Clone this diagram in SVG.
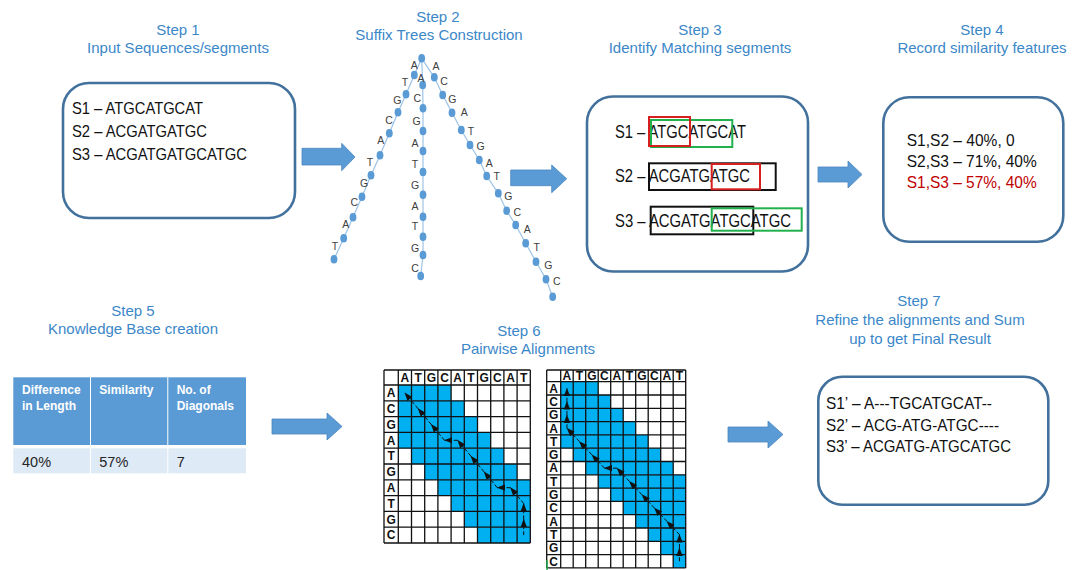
<svg xmlns="http://www.w3.org/2000/svg" width="1072" height="570" viewBox="0 0 1072 570">
<defs>
<style>
.ttl{font-family:"Liberation Sans",Arial,sans-serif;font-size:15px;fill:#3B87C8;text-anchor:middle}
.box{fill:#fff;stroke:#41719C;stroke-width:2.6}
.seq{font-family:"Liberation Sans",Arial,sans-serif;font-size:17px;fill:#111}
.seq3{font-family:"Liberation Sans",Arial,sans-serif;font-size:18px;fill:#111}
.barrow{fill:#5B9BD5;stroke:#4A86C0;stroke-width:0.8}
.tline{fill:none;stroke:#9DC3E6;stroke-width:1.2}
.tnode{fill:#5B9BD5}
.tlab{font-family:"Liberation Sans",Arial,sans-serif;font-size:10.5px;fill:#404040;text-anchor:middle}
.th{font-family:"Liberation Sans",Arial,sans-serif;font-size:12px;font-weight:bold;fill:#fff}
.td{font-family:"Liberation Sans",Arial,sans-serif;font-size:14.5px;fill:#262626}
.blue{fill:#00B0F0}
.grid{fill:none;stroke:#111;stroke-width:1.3}
.gh{font-family:"Liberation Sans",Arial,sans-serif;font-size:12px;font-weight:bold;fill:#111;text-anchor:middle}
.tb{stroke:#111;stroke-width:1;stroke-dasharray:4 2;fill:none;marker-end:url(#ah)}
</style>
<marker id="ah" viewBox="0 0 8 6" refX="7.5" refY="3" markerWidth="8.5" markerHeight="7" markerUnits="userSpaceOnUse" orient="auto">
<path d="M0,0 L8,3 L0,6 z" fill="#111"/>
</marker>
</defs>

<!-- Titles -->
<g id="titles">
<text class="ttl" x="178" y="35">Step 1</text>
<text class="ttl" x="178" y="53">Input Sequences/segments</text>
<text class="ttl" x="438" y="22">Step 2</text>
<text class="ttl" x="439" y="40">Suffix Trees Construction</text>
<text class="ttl" x="700" y="35">Step 3</text>
<text class="ttl" x="700" y="53">Identify Matching segments</text>
<text class="ttl" x="982" y="35">Step 4</text>
<text class="ttl" x="982" y="53">Record similarity features</text>
<text class="ttl" x="133" y="316">Step 5</text>
<text class="ttl" x="133" y="334">Knowledge Base creation</text>
<text class="ttl" x="519" y="336">Step 6</text>
<text class="ttl" x="528" y="354">Pairwise Alignments</text>
<text class="ttl" x="919" y="306">Step 7</text>
<text class="ttl" x="920" y="325">Refine the alignments and Sum</text>
<text class="ttl" x="920" y="344">up to get Final Result</text>
</g>

<!-- Step 1 -->
<g id="step1">
<rect class="box" x="63" y="83" width="232" height="135" rx="26"/>
<text class="seq" x="72" y="114" textLength="131" lengthAdjust="spacingAndGlyphs">S1 – ATGCATGCAT</text>
<text class="seq" x="72" y="137" textLength="135" lengthAdjust="spacingAndGlyphs">S2 – ACGATGATGC</text>
<text class="seq" x="72" y="160" textLength="175" lengthAdjust="spacingAndGlyphs">S3 – ACGATGATGCATGC</text>
</g>

<!-- Step 2 suffix tree -->
<g id="step2">
<polyline class="tline" points="421.7,58.3 414.3,75 406,94.3 398,112.3 389.3,133.3 380,155.3 371,175.3 362,196.7 353,217.3 343.7,238.3 334,259.3"/>
<polyline class="tline" points="421.7,58.3 422.7,85 423,108.3 423,131 423,151 423,172 423,194.7 423,216.7 423,236.7 423,255 420.7,276"/>
<polyline class="tline" points="421.7,58.3 434.3,77.3 442.7,95 452,112.7 461.3,130 470,145 479.3,160 486.7,176 498.3,193.3 506.7,210.7 515.7,225 525.7,243.3 536,261.7 546,279.3 552.7,296.7"/>
<g class="tnode">
<ellipse cx="421.7" cy="58.3" rx="3.4" ry="4.3"/>
<ellipse cx="414.3" cy="75" rx="3.4" ry="4.3"/><ellipse cx="406" cy="94.3" rx="3.4" ry="4.3"/><ellipse cx="398" cy="112.3" rx="3.4" ry="4.3"/><ellipse cx="389.3" cy="133.3" rx="3.4" ry="4.3"/><ellipse cx="380" cy="155.3" rx="3.4" ry="4.3"/><ellipse cx="371" cy="175.3" rx="3.4" ry="4.3"/><ellipse cx="362" cy="196.7" rx="3.4" ry="4.3"/><ellipse cx="353" cy="217.3" rx="3.4" ry="4.3"/><ellipse cx="343.7" cy="238.3" rx="3.4" ry="4.3"/><ellipse cx="334" cy="259.3" rx="3.4" ry="4.3"/>
<ellipse cx="422.7" cy="85" rx="3.4" ry="4.3"/><ellipse cx="423" cy="108.3" rx="3.4" ry="4.3"/><ellipse cx="423" cy="131" rx="3.4" ry="4.3"/><ellipse cx="423" cy="151" rx="3.4" ry="4.3"/><ellipse cx="423" cy="172" rx="3.4" ry="4.3"/><ellipse cx="423" cy="194.7" rx="3.4" ry="4.3"/><ellipse cx="423" cy="216.7" rx="3.4" ry="4.3"/><ellipse cx="423" cy="236.7" rx="3.4" ry="4.3"/><ellipse cx="423" cy="255" rx="3.4" ry="4.3"/><ellipse cx="420.7" cy="276" rx="3.4" ry="4.3"/>
<ellipse cx="434.3" cy="77.3" rx="3.4" ry="4.3"/><ellipse cx="442.7" cy="95" rx="3.4" ry="4.3"/><ellipse cx="452" cy="112.7" rx="3.4" ry="4.3"/><ellipse cx="461.3" cy="130" rx="3.4" ry="4.3"/><ellipse cx="470" cy="145" rx="3.4" ry="4.3"/><ellipse cx="479.3" cy="160" rx="3.4" ry="4.3"/><ellipse cx="486.7" cy="176" rx="3.4" ry="4.3"/><ellipse cx="498.3" cy="193.3" rx="3.4" ry="4.3"/><ellipse cx="506.7" cy="210.7" rx="3.4" ry="4.3"/><ellipse cx="515.7" cy="225" rx="3.4" ry="4.3"/><ellipse cx="525.7" cy="243.3" rx="3.4" ry="4.3"/><ellipse cx="536" cy="261.7" rx="3.4" ry="4.3"/><ellipse cx="546" cy="279.3" rx="3.4" ry="4.3"/><ellipse cx="552.7" cy="296.7" rx="3.4" ry="4.3"/>
</g>
<g>
<text class="tlab" x="414.3" y="68.5">A</text><text class="tlab" x="405" y="85.8">T</text><text class="tlab" x="397.3" y="104.2">G</text><text class="tlab" x="389" y="124.2">C</text><text class="tlab" x="380.7" y="143.5">A</text><text class="tlab" x="370" y="165.8">T</text><text class="tlab" x="364" y="186.8">G</text><text class="tlab" x="354.3" y="206.2">C</text><text class="tlab" x="345.7" y="227.5">A</text><text class="tlab" x="335" y="250.2">T</text>
<text class="tlab" x="421" y="81.8">A</text><text class="tlab" x="417.3" y="101.8">C</text><text class="tlab" x="416.7" y="125.2">G</text><text class="tlab" x="415" y="146.8">A</text><text class="tlab" x="415" y="167.5">T</text><text class="tlab" x="415" y="188.5">G</text><text class="tlab" x="415" y="209.5">A</text><text class="tlab" x="415" y="230.2">T</text><text class="tlab" x="415" y="251.8">G</text><text class="tlab" x="415" y="271.8">C</text>
<text class="tlab" x="436" y="70.2">A</text><text class="tlab" x="444" y="85.2">C</text><text class="tlab" x="452.3" y="102.8">G</text><text class="tlab" x="464.3" y="116.2">A</text><text class="tlab" x="471" y="135.2">T</text><text class="tlab" x="480.7" y="150.2">G</text><text class="tlab" x="489.3" y="166.8">A</text><text class="tlab" x="496.7" y="180.2">T</text><text class="tlab" x="508.3" y="199.5">G</text><text class="tlab" x="517.3" y="215.8">C</text><text class="tlab" x="527.3" y="232.5">A</text><text class="tlab" x="536.7" y="250.8">T</text><text class="tlab" x="548.3" y="268.5">G</text><text class="tlab" x="556.7" y="285.2">C</text>
</g>
</g>

<!-- Step 3 -->
<g id="step3">
<rect class="box" x="587" y="96.5" width="221" height="175" rx="26"/>
<text class="seq3" x="615" y="137.5" textLength="131" lengthAdjust="spacingAndGlyphs">S1 – ATGCATGCAT</text>
<text class="seq3" x="615" y="181.5" textLength="135" lengthAdjust="spacingAndGlyphs">S2 – ACGATGATGC</text>
<text class="seq3" x="615" y="226.5" textLength="176" lengthAdjust="spacingAndGlyphs">S3 – ACGATGATGCATGC</text>
<rect x="651" y="120" width="81.3" height="27" fill="none" stroke="#22B14C" stroke-width="2"/>
<rect x="649" y="117" width="41" height="29" fill="none" stroke="#D62020" stroke-width="2"/>
<rect x="649" y="163.3" width="126.7" height="26.7" fill="none" stroke="#111" stroke-width="2"/>
<rect x="711.7" y="164" width="48.3" height="25.3" fill="none" stroke="#D62020" stroke-width="2"/>
<rect x="650.7" y="206.7" width="102.6" height="27.6" fill="none" stroke="#111" stroke-width="2"/>
<rect x="711.7" y="208.3" width="90" height="22.4" fill="none" stroke="#22B14C" stroke-width="2"/>
</g>

<!-- Step 4 -->
<g id="step4">
<rect class="box" x="883.3" y="97.3" width="180" height="144.4" rx="26"/>
<text class="seq" x="906.7" y="146" textLength="108" lengthAdjust="spacingAndGlyphs">S1,S2 – 40%, 0</text>
<text class="seq" x="906.7" y="166.5" textLength="130" lengthAdjust="spacingAndGlyphs">S2,S3 – 71%, 40%</text>
<text class="seq" x="906.7" y="188" textLength="130" lengthAdjust="spacingAndGlyphs" style="fill:#C00000">S1,S3 – 57%, 40%</text>
</g>

<!-- Step 5 table -->
<g id="step5">
<rect x="13.3" y="377.3" width="76.7" height="67.7" fill="#5B9BD5"/>
<rect x="91" y="377.3" width="76.3" height="67.7" fill="#5B9BD5"/>
<rect x="168.3" y="377.3" width="77.7" height="67.7" fill="#5B9BD5"/>
<rect x="13.3" y="448.3" width="76.7" height="25" fill="#DEEAF6"/>
<rect x="91" y="448.3" width="76.3" height="25" fill="#DEEAF6"/>
<rect x="168.3" y="448.3" width="77.7" height="25" fill="#DEEAF6"/>
<text class="th" x="22" y="394">Difference</text>
<text class="th" x="22" y="410">in Length</text>
<text class="th" x="99.3" y="394">Similarity</text>
<text class="th" x="176.7" y="394">No. of</text>
<text class="th" x="176.7" y="410">Diagonals</text>
<text class="td" x="22" y="466.5">40%</text>
<text class="td" x="99.3" y="466.5">57%</text>
<text class="td" x="176.7" y="466.5">7</text>
</g>

<!-- Step 6 grid 1 -->
<g id="step6-grid1">
<rect class="blue" x="398.3" y="385" width="52.8" height="15.8"/>
<rect class="blue" x="398.3" y="400.8" width="66" height="15.8"/>
<rect class="blue" x="398.3" y="416.6" width="79.2" height="15.8"/>
<rect class="blue" x="398.3" y="432.4" width="92.4" height="15.8"/>
<rect class="blue" x="411.5" y="448.2" width="92.4" height="15.8"/>
<rect class="blue" x="424.7" y="464" width="92.4" height="15.8"/>
<rect class="blue" x="437.9" y="479.8" width="92.4" height="15.8"/>
<rect class="blue" x="451.1" y="495.6" width="79.2" height="15.8"/>
<rect class="blue" x="464.3" y="511.4" width="66" height="15.8"/>
<rect class="blue" x="477.5" y="527.2" width="52.8" height="15.8"/>
<path class="grid" d="M384,370V543M398.3,370V543M411.5,370V543M424.7,370V543M437.9,370V543M451.1,370V543M464.3,370V543M477.5,370V543M490.7,370V543M503.9,370V543M517.1,370V543M530.3,370V543M384,370H530.3M384,385H530.3M384,400.8H530.3M384,416.6H530.3M384,432.4H530.3M384,448.2H530.3M384,464H530.3M384,479.8H530.3M384,495.6H530.3M384,511.4H530.3M384,527.2H530.3M384,543H530.3"/>
<text class="gh" x="404.9" y="382">A</text><text class="gh" x="418.1" y="382">T</text><text class="gh" x="431.3" y="382">G</text><text class="gh" x="444.5" y="382">C</text><text class="gh" x="457.7" y="382">A</text><text class="gh" x="470.9" y="382">T</text><text class="gh" x="484.1" y="382">G</text><text class="gh" x="497.3" y="382">C</text><text class="gh" x="510.5" y="382">A</text><text class="gh" x="523.7" y="382">T</text>
<text class="gh" x="391.2" y="397.2">A</text><text class="gh" x="391.2" y="413">C</text><text class="gh" x="391.2" y="428.8">G</text><text class="gh" x="391.2" y="444.6">A</text><text class="gh" x="391.2" y="460.4">T</text><text class="gh" x="391.2" y="476.2">G</text><text class="gh" x="391.2" y="492">A</text><text class="gh" x="391.2" y="507.8">T</text><text class="gh" x="391.2" y="523.6">G</text><text class="gh" x="391.2" y="539.4">C</text>
</g>

<!-- Step 6 grid 2 -->
<g id="step6-grid2">
<rect class="blue" x="560.7" y="381.7" width="37.5" height="13.3"/>
<rect class="blue" x="560.7" y="395" width="50" height="13.3"/>
<rect class="blue" x="560.7" y="408.3" width="62.5" height="13.3"/>
<rect class="blue" x="560.7" y="421.6" width="75" height="13.3"/>
<rect class="blue" x="560.7" y="434.9" width="87.5" height="13.3"/>
<rect class="blue" x="573.2" y="448.2" width="87.5" height="13.3"/>
<rect class="blue" x="585.7" y="461.5" width="87.5" height="13.3"/>
<rect class="blue" x="598.2" y="474.8" width="87.5" height="13.3"/>
<rect class="blue" x="610.7" y="488.1" width="75" height="13.3"/>
<rect class="blue" x="623.2" y="501.4" width="62.5" height="13.3"/>
<rect class="blue" x="635.7" y="514.7" width="50" height="13.3"/>
<rect class="blue" x="648.2" y="528" width="37.5" height="13.3"/>
<rect class="blue" x="660.7" y="541.3" width="25" height="13.3"/>
<rect class="blue" x="673.2" y="554.6" width="12.5" height="13.3"/>
<path class="grid" d="M546.7,370V568M560.7,370V568M573.2,370V568M585.7,370V568M598.2,370V568M610.7,370V568M623.2,370V568M635.7,370V568M648.2,370V568M660.7,370V568M673.2,370V568M685.7,370V568M546.7,370H685.7M546.7,381.7H685.7M546.7,395H685.7M546.7,408.3H685.7M546.7,421.6H685.7M546.7,434.9H685.7M546.7,448.2H685.7M546.7,461.5H685.7M546.7,474.8H685.7M546.7,488.1H685.7M546.7,501.4H685.7M546.7,514.7H685.7M546.7,528H685.7M546.7,541.3H685.7M546.7,554.6H685.7M546.7,567.9H685.7"/>
<line x1="547" y1="560" x2="547" y2="570" stroke="#22B14C" stroke-width="1.5"/>
<text class="gh" x="566.95" y="380.2">A</text><text class="gh" x="579.45" y="380.2">T</text><text class="gh" x="591.95" y="380.2">G</text><text class="gh" x="604.45" y="380.2">C</text><text class="gh" x="616.95" y="380.2">A</text><text class="gh" x="629.45" y="380.2">T</text><text class="gh" x="641.95" y="380.2">G</text><text class="gh" x="654.45" y="380.2">C</text><text class="gh" x="666.95" y="380.2">A</text><text class="gh" x="679.45" y="380.2">T</text>
<text class="gh" x="553.7" y="392.6">A</text><text class="gh" x="553.7" y="405.9">C</text><text class="gh" x="553.7" y="419.2">G</text><text class="gh" x="553.7" y="432.5">A</text><text class="gh" x="553.7" y="445.8">T</text><text class="gh" x="553.7" y="459.1">G</text><text class="gh" x="553.7" y="472.4">A</text><text class="gh" x="553.7" y="485.7">T</text><text class="gh" x="553.7" y="499">G</text><text class="gh" x="553.7" y="512.3">C</text><text class="gh" x="553.7" y="525.6">A</text><text class="gh" x="553.7" y="538.9">T</text><text class="gh" x="553.7" y="552.2">G</text><text class="gh" x="553.7" y="565.5">C</text>
</g>

<!-- Step 7 -->
<g id="step7">
<rect class="box" x="818.3" y="376.7" width="230" height="128" rx="24"/>
<text class="seq" x="826" y="408.5" textLength="166" lengthAdjust="spacingAndGlyphs">S1’ – A---TGCATGCAT--</text>
<text class="seq" x="826" y="430.5" textLength="173" lengthAdjust="spacingAndGlyphs">S2’ – ACG-ATG-ATGC----</text>
<text class="seq" x="826" y="452" textLength="185" lengthAdjust="spacingAndGlyphs">S3’ – ACGATG-ATGCATGC</text>
</g>

<!-- Connectors -->
<g id="connectors">
<path class="barrow" d="M302,148.3H341.7V143.3L355,157L341.7,170.7V165H302Z"/>
<path class="barrow" d="M510.7,170H551.7V165L566.7,178.8L551.7,192.7V185.7H510.7Z"/>
<path class="barrow" d="M818,167H848V161L862,174.5L848,188V182H818Z"/>
<path class="barrow" d="M272,419H327V413L342,426.5L327,440V434H272Z"/>
<path class="barrow" d="M728,427H768V421L783,434.5L768,448V442H728Z"/>
<g id="traceback1">
<line class="tb" x1="523.7" y1="535.1" x2="523.7" y2="519.3"/>
<line class="tb" x1="523.7" y1="519.3" x2="523.7" y2="503.5"/>
<line class="tb" x1="523.7" y1="503.5" x2="510.5" y2="487.7"/>
<line class="tb" x1="510.5" y1="487.7" x2="497.3" y2="487.7"/>
<line class="tb" x1="497.3" y1="487.7" x2="484.1" y2="471.9"/>
<line class="tb" x1="484.1" y1="471.9" x2="470.9" y2="456.1"/>
<line class="tb" x1="470.9" y1="456.1" x2="457.7" y2="440.3"/>
<line class="tb" x1="457.7" y1="440.3" x2="444.5" y2="440.3"/>
<line class="tb" x1="444.5" y1="440.3" x2="431.3" y2="424.5"/>
<line class="tb" x1="431.3" y1="424.5" x2="418.1" y2="408.7"/>
<line class="tb" x1="418.1" y1="408.7" x2="404.9" y2="392.9"/>
</g>
<g id="traceback2">
<line class="tb" x1="679.45" y1="561.25" x2="679.45" y2="547.95"/>
<line class="tb" x1="679.45" y1="547.95" x2="679.45" y2="534.65"/>
<line class="tb" x1="679.45" y1="534.65" x2="666.95" y2="521.35"/>
<line class="tb" x1="666.95" y1="521.35" x2="654.45" y2="508.05"/>
<line class="tb" x1="654.45" y1="508.05" x2="641.95" y2="494.75"/>
<line class="tb" x1="641.95" y1="494.75" x2="629.45" y2="481.45"/>
<line class="tb" x1="629.45" y1="481.45" x2="616.95" y2="468.15"/>
<line class="tb" x1="616.95" y1="468.15" x2="604.45" y2="468.15"/>
<line class="tb" x1="604.45" y1="468.15" x2="591.95" y2="454.85"/>
<line class="tb" x1="591.95" y1="454.85" x2="579.45" y2="441.55"/>
<line class="tb" x1="579.45" y1="441.55" x2="566.95" y2="428.25"/>
<line class="tb" x1="566.95" y1="428.25" x2="566.95" y2="414.95"/>
<line class="tb" x1="566.95" y1="414.95" x2="566.95" y2="401.65"/>
<line class="tb" x1="566.95" y1="401.65" x2="566.95" y2="388.35"/>
</g>
</g>
</svg>
